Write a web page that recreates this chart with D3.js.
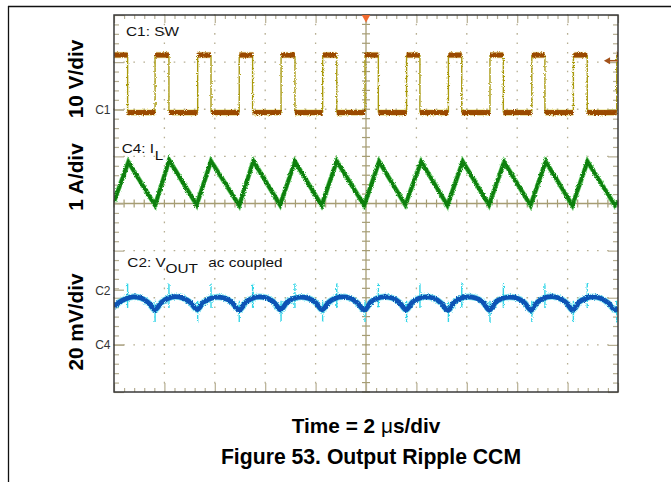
<!DOCTYPE html>
<html>
<head>
<meta charset="utf-8">
<script src="https://cdn.jsdelivr.net/npm/d3@7"></script>
<style>
body { margin: 0; background: #fff; }
text { font-family: "Liberation Sans", Arial, sans-serif; }
</style>
</head>
<body>
<div id="scope"></div>
<script>
// SW node (C1): edge times in us, levels in V
var swFall = [0.54, 2.18, 3.85, 5.50, 7.18, 8.84, 10.49, 12.14, 13.80, 15.45, 17.10, 18.78];
var swRise = [1.63, 3.32, 4.97, 6.63, 8.28, 9.96, 11.61, 13.27, 14.92, 16.58, 18.23, 19.95];
var swLevels = [11.7, -0.5]; // high, low
var trigLevel = 10.5;        // V, arrow on the right edge

// inductor current (C4), corners of the triangle wave
var ilTime = [0, 0.57, 1.63, 2.19, 3.28, 3.85, 4.97, 5.53, 6.59, 7.18, 8.24, 8.84, 9.93,
  10.52, 11.56, 12.19, 13.23, 13.84, 14.88, 15.48, 16.53, 17.13, 18.19, 18.79, 19.88, 20];
var ilAmps = [3.04, 3.88, 2.96, 3.92, 2.97, 3.90, 2.96, 3.90, 2.97, 3.89, 2.96, 3.90, 2.96,
  3.89, 2.97, 3.89, 2.96, 3.89, 2.97, 3.88, 2.96, 3.89, 2.96, 3.89, 2.96, 3.05];

// output ripple (C2, ac coupled), mV
var vTime = [0, 0.22, 0.47, 0.77, 1.07, 1.37,
  1.63, 1.88, 2.13, 2.43, 2.73, 3.03,
  3.30, 3.55, 3.80, 4.10, 4.40, 4.70,
  4.97, 5.22, 5.47, 5.77, 6.07, 6.37,
  6.61, 6.86, 7.11, 7.41, 7.71, 8.01,
  8.26, 8.51, 8.76, 9.06, 9.36, 9.66,
  9.94, 10.19, 10.44, 10.74, 11.04, 11.34,
  11.59, 11.84, 12.09, 12.39, 12.69, 12.99,
  13.25, 13.50, 13.75, 14.05, 14.35, 14.65,
  14.90, 15.15, 15.40, 15.70, 16.00, 16.30,
  16.55, 16.80, 17.05, 17.35, 17.65, 17.95,
  18.21, 18.46, 18.71, 19.01, 19.31, 19.61,
  19.90, 20.0];
var vOut = [-7.0, -5.0, -3.6, -2.8, -3.3, -5.3,
  -8.3, -5.2, -3.5, -2.7, -3.3, -5.2,
  -8.2, -5.1, -3.6, -2.9, -3.4, -5.4,
  -8.4, -5.2, -3.5, -2.8, -3.3, -5.3,
  -8.3, -5.1, -3.6, -2.9, -3.4, -5.3,
  -8.3, -5.2, -3.5, -2.8, -3.3, -5.4,
  -8.4, -5.0, -3.4, -2.8, -3.3, -5.3,
  -8.3, -5.1, -3.5, -2.8, -3.4, -5.5,
  -8.6, -5.1, -3.4, -2.8, -3.3, -5.2,
  -8.4, -5.0, -3.5, -2.9, -3.4, -5.4,
  -8.5, -5.1, -3.4, -2.7, -3.3, -5.3,
  -8.5, -5.0, -3.5, -2.8, -3.4, -5.4,
  -8.4, -7.2];
var riseSpike = [-4.5, -13.5]; // mV, spike span at SW rising edges
var fallSpike = [2.8, -7.5];   // mV, spike span at SW falling edges

// channel ground markers, in divisions from screen centre
var markerName = ["C1", "C2", "C4"];
var markerDiv = [1.98, -1.84, -3.0];

var W = 671, H = 482;
var plot = { left: 114, right: 618, top: 15, bottom: 392 };

var svg = d3.select("#scope").append("svg")
    .attr("width", W)
    .attr("height", H);

// page frame (top and left rules)
svg.append("line").attr("x1", 8).attr("x2", W).attr("y1", 6.5).attr("y2", 6.5)
    .attr("stroke", "#111").attr("stroke-width", 1.3);
svg.append("line").attr("x1", 8.5).attr("x2", 8.5).attr("y1", 6).attr("y2", H)
    .attr("stroke", "#111").attr("stroke-width", 1.3);

// scales
var x = d3.scaleLinear().domain([0, 20]).range([plot.left, plot.right]);
var yDiv = d3.scaleLinear().domain([4, -4]).range([plot.top, plot.bottom]);
var y1 = d3.scaleLinear().domain([0, 10]).range([yDiv(markerDiv[0]), yDiv(markerDiv[0] + 1)]);
var y2 = d3.scaleLinear().domain([0, 20]).range([yDiv(markerDiv[1]), yDiv(markerDiv[1] + 1)]);
var y4 = d3.scaleLinear().domain([0, 1]).range([yDiv(markerDiv[2]), yDiv(markerDiv[2] + 1)]);

var gridCol = "#b6ae92", axisCol = "#a69d74";

// dotted graticule
var g = svg.append("g");
var xMinor = 20 / 50, yMinor = 0.2;
var xDivs = d3.range(2, 20, 2).filter(function (d) { return d !== 10; });
var yDivs = d3.range(-3, 4, 1).filter(function (d) { return d !== 0; });
var xStep = x(xMinor) - x(0), yStep = yDiv(0) - yDiv(yMinor);

g.selectAll(".hdot").data(yDivs).enter().append("line")
    .attr("x1", plot.left - 0.8).attr("x2", plot.right)
    .attr("y1", function (d) { return yDiv(d); }).attr("y2", function (d) { return yDiv(d); })
    .attr("stroke", gridCol).attr("stroke-width", 1.3)
    .attr("stroke-dasharray", "1.6," + (xStep - 1.6));
g.selectAll(".vdot").data(xDivs).enter().append("line")
    .attr("y1", plot.top - 0.8).attr("y2", plot.bottom)
    .attr("x1", function (d) { return x(d); }).attr("x2", function (d) { return x(d); })
    .attr("stroke", gridCol).attr("stroke-width", 1.3)
    .attr("stroke-dasharray", "1.6," + (yStep - 1.6));

// centre cross with minor ticks
var cx = x(10), cy = yDiv(0);
g.append("line").attr("x1", plot.left).attr("x2", plot.right).attr("y1", cy).attr("y2", cy)
    .attr("stroke", axisCol).attr("stroke-width", 1.3);
g.append("line").attr("x1", cx).attr("x2", cx).attr("y1", plot.top).attr("y2", plot.bottom)
    .attr("stroke", axisCol).attr("stroke-width", 1.3);
var xTicks = d3.range(0, 20.001, xMinor), yTicks = d3.range(-4, 4.001, yMinor);
g.selectAll(".cxt").data(xTicks).enter().append("line")
    .attr("x1", function (d) { return x(d); }).attr("x2", function (d) { return x(d); })
    .attr("y1", cy - 4).attr("y2", cy + 4)
    .attr("stroke", axisCol).attr("stroke-width", 1.2);
g.selectAll(".cyt").data(yTicks).enter().append("line")
    .attr("y1", function (d) { return yDiv(d); }).attr("y2", function (d) { return yDiv(d); })
    .attr("x1", cx - 4).attr("x2", cx + 4)
    .attr("stroke", axisCol).attr("stroke-width", 1.2);

// border ticks via axes
function borderAxis(axis, tx, ty) {
  var a = g.append("g").attr("transform", "translate(" + tx + "," + ty + ")").call(axis);
  a.select(".domain").remove();
  a.selectAll("text").remove();
  a.selectAll("line").attr("stroke", gridCol).attr("stroke-width", 1.2);
}
var isMajorX = function (d) { return Math.abs(d / 2 - Math.round(d / 2)) < 1e-6; };
var isMajorY = function (d) { return Math.abs(d - Math.round(d)) < 1e-6; };
var xMin = xTicks.filter(function (d) { return !isMajorX(d); });
var xMaj = xTicks.filter(isMajorX);
var yMin = yTicks.filter(function (d) { return !isMajorY(d); });
var yMaj = yTicks.filter(isMajorY);
borderAxis(d3.axisBottom(x).tickValues(xMin).tickSize(4), 0, plot.top);
borderAxis(d3.axisBottom(x).tickValues(xMaj).tickSize(8), 0, plot.top);
borderAxis(d3.axisTop(x).tickValues(xMin).tickSize(4), 0, plot.bottom);
borderAxis(d3.axisTop(x).tickValues(xMaj).tickSize(9), 0, plot.bottom);
borderAxis(d3.axisRight(yDiv).tickValues(yMin).tickSize(5), plot.left, 0);
borderAxis(d3.axisRight(yDiv).tickValues(yMaj).tickSize(10), plot.left, 0);
borderAxis(d3.axisLeft(yDiv).tickValues(yMin).tickSize(5), plot.right, 0);
borderAxis(d3.axisLeft(yDiv).tickValues(yMaj).tickSize(10), plot.right, 0);

// channel ground markers
g.selectAll(".mk").data(markerDiv).enter().append("line")
    .attr("x1", plot.left).attr("x2", plot.left + 10)
    .attr("y1", function (d) { return yDiv(d); }).attr("y2", function (d) { return yDiv(d); })
    .attr("stroke", gridCol).attr("stroke-width", 1.3);
svg.selectAll(".mkl").data(markerDiv).enter().append("text")
    .attr("x", plot.left - 3.5)
    .attr("y", function (d) { return yDiv(d) + 4.3; })
    .attr("text-anchor", "end")
    .attr("font-size", 12)
    .attr("fill", "#333")
    .text(function (d, i) { return markerName[i]; });

// noise texture for traces
var defs = svg.append("defs");
var f = defs.append("filter").attr("id", "fuzz")
    .attr("x", "-5%").attr("y", "-20%").attr("width", "110%").attr("height", "140%");
f.append("feTurbulence").attr("type", "fractalNoise").attr("baseFrequency", "0.9")
    .attr("numOctaves", 2).attr("seed", 3).attr("result", "n");
f.append("feDisplacementMap").attr("in", "SourceGraphic").attr("in2", "n")
    .attr("scale", 3).attr("xChannelSelector", "R").attr("yChannelSelector", "G");
defs.append("clipPath").attr("id", "clip").append("rect")
    .attr("x", plot.left).attr("y", plot.top)
    .attr("width", plot.right - plot.left).attr("height", plot.bottom - plot.top);

var traces = svg.append("g").attr("clip-path", "url(#clip)");

// C1 SW trace
var edges = swFall.map(function (t) { return { t: t, to: swLevels[1] }; })
    .concat(swRise.map(function (t) { return { t: t, to: swLevels[0] }; }))
    .sort(function (a, b) { return a.t - b.t; });
var plateaus = [], lvl = swLevels[0], t0 = 0;
edges.forEach(function (e) {
  plateaus.push({ t0: t0, t1: e.t, v: lvl });
  lvl = e.to; t0 = e.t;
});
plateaus.push({ t0: t0, t1: 20, v: lvl });

var sw = traces.append("g").attr("filter", "url(#fuzz)");
sw.selectAll(".edge").data(edges).enter().append("line")
    .attr("x1", function (d) { return x(d.t); }).attr("x2", function (d) { return x(d.t); })
    .attr("y1", y1(swLevels[0])).attr("y2", y1(swLevels[1]))
    .attr("stroke", "#a99a10").attr("stroke-width", 1.4);
sw.selectAll(".plh").data(plateaus).enter().append("line")
    .attr("x1", function (d) { return x(d.t0); }).attr("x2", function (d) { return x(d.t1); })
    .attr("y1", function (d) { return y1(d.v); }).attr("y2", function (d) { return y1(d.v); })
    .attr("stroke", "#d0bc00").attr("stroke-width", 6.5).attr("opacity", 0.4);
sw.selectAll(".pl").data(plateaus).enter().append("line")
    .attr("x1", function (d) { return x(d.t0); }).attr("x2", function (d) { return x(d.t1); })
    .attr("y1", function (d) { return y1(d.v); }).attr("y2", function (d) { return y1(d.v); })
    .attr("stroke", "#9a4800").attr("stroke-width", 5);

// C4 inductor current
var ilLine = d3.line()
    .x(function (d, i) { return x(ilTime[i]); })
    .y(function (d) { return y4(d); });
var il = traces.append("g").attr("filter", "url(#fuzz)");
il.append("path").datum(ilAmps).attr("d", ilLine)
    .attr("fill", "none").attr("stroke", "#3fbf3f").attr("stroke-width", 5)
    .attr("stroke-linejoin", "miter").attr("opacity", 0.7);
il.append("path").datum(ilAmps).attr("d", ilLine)
    .attr("fill", "none").attr("stroke", "#0f7f0f").attr("stroke-width", 3.6)
    .attr("stroke-linejoin", "miter");

// C2 output ripple
var vLine = d3.line()
    .x(function (d, i) { return x(vTime[i]); })
    .y(function (d) { return y2(d); })
    .curve(d3.curveMonotoneX);
var vo = traces.append("g").attr("filter", "url(#fuzz)");
vo.selectAll(".sr").data(swRise).enter().append("line")
    .attr("x1", function (d) { return x(d); }).attr("x2", function (d) { return x(d); })
    .attr("y1", y2(riseSpike[0])).attr("y2", y2(riseSpike[1]))
    .attr("stroke", "#34d6e8").attr("stroke-width", 1.4);
vo.selectAll(".sf").data(swFall).enter().append("line")
    .attr("x1", function (d) { return x(d); }).attr("x2", function (d) { return x(d); })
    .attr("y1", y2(fallSpike[0])).attr("y2", y2(fallSpike[1]))
    .attr("stroke", "#34d6e8").attr("stroke-width", 1.4);
vo.append("path").datum(vOut).attr("d", vLine)
    .attr("fill", "none").attr("stroke", "#34d6e8").attr("stroke-width", 6.5).attr("opacity", 0.6);
vo.append("path").datum(vOut).attr("d", vLine)
    .attr("fill", "none").attr("stroke", "#0d52b5").attr("stroke-width", 4.8);

// plot border
svg.append("rect")
    .attr("x", plot.left).attr("y", plot.top)
    .attr("width", plot.right - plot.left).attr("height", plot.bottom - plot.top)
    .attr("fill", "none").attr("stroke", "#3a3a3a").attr("stroke-width", 1.5);

// trigger position marker
svg.append("path")
    .attr("d", d3.symbol().type(d3.symbolTriangle).size(32)())
    .attr("transform", "translate(" + cx + "," + (plot.top + 2.5) + ") rotate(180)")
    .attr("fill", "#f26a2e");
// trigger level arrow
var ty = y1(trigLevel);
svg.append("line").attr("x1", plot.right - 9).attr("x2", plot.right).attr("y1", ty).attr("y2", ty)
    .attr("stroke", "#a3521a").attr("stroke-width", 1.5);
svg.append("path")
    .attr("d", d3.symbol().type(d3.symbolTriangle).size(22)())
    .attr("transform", "translate(" + (plot.right - 10) + "," + ty + ") rotate(-90)")
    .attr("fill", "#a3521a");

// trace labels (scope font is a bit wide)
function label(px, py, s) {
  svg.append("text")
      .attr("transform", "translate(" + px + "," + py + ") scale(1.13,1)")
      .attr("font-size", 13.6)
      .attr("fill", "#111")
      .text(s);
}
label(126, 35.5, "C1: SW");
label(121.7, 153.3, "C4: I");
label(154.8, 159.8, "L");
label(127.3, 266.7, "C2: V");
label(165.5, 273.3, "OUT");
label(208.3, 266.7, "ac coupled");

// vertical scale titles
var yTitles = ["10 V/div", "1 A/div", "20 mV/div"];
var yTitlePos = [79, 177, 322];
svg.selectAll(".yt").data(yTitles).enter().append("text")
    .attr("transform", function (d, i) { return "translate(83," + yTitlePos[i] + ") rotate(-90)"; })
    .attr("text-anchor", "middle")
    .attr("font-size", 20.8)
    .attr("font-weight", "bold")
    .attr("fill", "#000")
    .text(function (d) { return d; });

// time base and caption
var tb = svg.append("text")
    .attr("x", 366).attr("y", 433)
    .attr("text-anchor", "middle")
    .attr("font-size", 20.8).attr("font-weight", "bold");
tb.append("tspan").text("Time = 2 ");
tb.append("tspan").attr("font-weight", "normal").text("\u03bc");
tb.append("tspan").text("s/div");

svg.append("text")
    .attr("x", 371).attr("y", 464)
    .attr("text-anchor", "middle")
    .attr("font-size", 21.2).attr("font-weight", "bold")
    .text("Figure 53. Output Ripple CCM");
</script>
</body>
</html>
